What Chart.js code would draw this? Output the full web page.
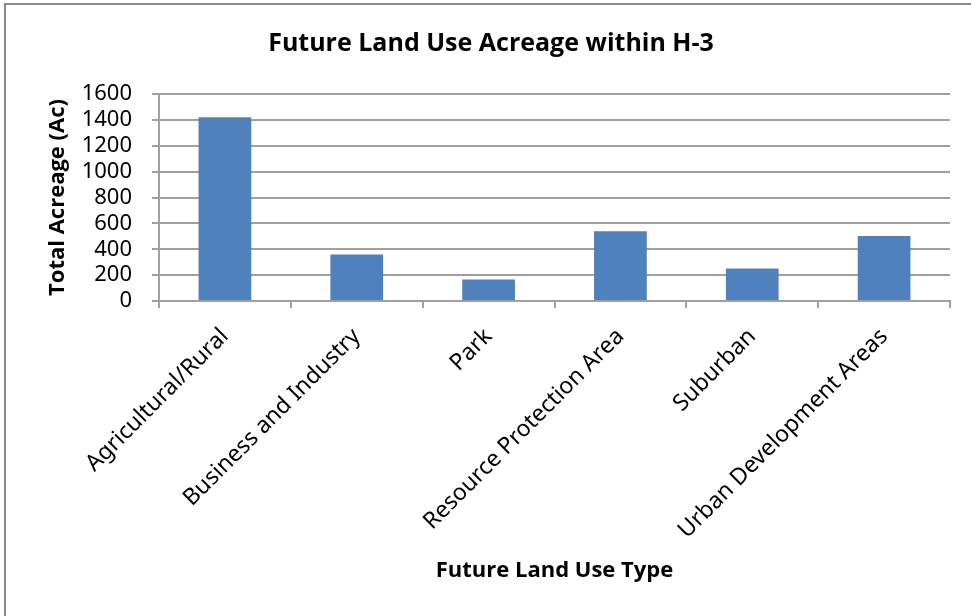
<!DOCTYPE html>
<html>
<head>
<meta charset="utf-8">
<script src="https://cdn.jsdelivr.net/npm/chart.js@4/dist/chart.umd.min.js"></script>
<style>
  html, body { margin: 0; padding: 0; background: #fff; overflow: hidden; }
  #frame {
    position: absolute; left: 4px; top: 3px;
    width: 1000px; height: 700px;
    border: 2px solid #8a8a8a; box-sizing: border-box;
  }
  #wrap { position: absolute; left: 0; top: 0; width: 971px; height: 616px; }
</style>
</head>
<body>
<div id="frame"></div>
<div id="wrap"><canvas id="c" width="971" height="616"></canvas></div>
<script>
// Future land use categories and their total acreage
const categories = [
  "Agricultural/Rural",
  "Business and Industry",
  "Park",
  "Resource Protection Area",
  "Suburban",
  "Urban Development Areas"
];
const acreage = [1420, 360, 167, 540, 252, 502];
const yTicks = [0, 200, 400, 600, 800, 1000, 1200, 1400, 1600];

const chartTitle = "Future Land Use Acreage within H-3";
const xTitle = "Future Land Use Type";
const yTitle = "Total Acreage (Ac)";

const gridColor = "#a0a0a0";
const tickFont = "'Noto Sans', 'Open Sans', sans-serif";
const titleFont = "'Open Sans', 'Noto Sans', sans-serif";

function draw() {
  new Chart(document.getElementById("c"), {
    type: "bar",
    data: {
      labels: categories,
      datasets: [{
        data: acreage,
        backgroundColor: "#4f81bd",
        borderWidth: 0,
        categoryPercentage: 1.0,
        barPercentage: 0.4
      }]
    },
    options: {
      responsive: false,
      animation: false,
      devicePixelRatio: 1,
      layout: { padding: { left: 32, right: 21, top: 0, bottom: 0 } },
      plugins: {
        legend: { display: false },
        tooltip: { enabled: false },
        title: {
          display: true,
          text: chartTitle,
          color: "#000",
          font: { family: titleFont, size: 25, weight: "bold" },
          padding: { top: 29, bottom: 35 }
        }
      },
      scales: {
        x: {
          afterFit: (axis) => { axis.height = 315; },
          grid: {
            offset: true,
            drawOnChartArea: false,
            drawTicks: true,
            tickLength: 7,
            color: gridColor,
            lineWidth: 2
          },
          border: { color: gridColor, width: 2 },
          ticks: {
            color: "#000",
            minRotation: 45,
            maxRotation: 45,
            padding: 15,
            autoSkip: false,
            font: { family: tickFont, size: 23 }
          },
          title: {
            display: true,
            text: xTitle,
            color: "#000",
            font: { family: titleFont, size: 22, weight: "bold" },
            padding: { top: 0, bottom: 32 }
          }
        },
        y: {
          min: 0,
          max: 1600,
          afterFit: (axis) => { axis.width = 127; },
          afterBuildTicks: (axis) => { axis.ticks = yTicks.map(v => ({ value: v })); },
          grid: {
            color: gridColor,
            lineWidth: 2,
            tickLength: 7
          },
          border: { color: gridColor, width: 2 },
          ticks: {
            color: "#000",
            padding: 20,
            autoSkip: false,
            font: { family: tickFont, size: 22 },
            callback: (v) => String(v)
          },
          title: {
            display: true,
            text: yTitle,
            color: "#000",
            font: { family: titleFont, size: 22, weight: "bold" },
            padding: { top: 13, bottom: 0 }
          }
        }
      }
    }
  });
}

Promise.all([
  document.fonts.load("20px 'Noto Sans'"),
  document.fonts.load("bold 21px 'Open Sans'")
]).then(draw, draw);
</script>
</body>
</html>
